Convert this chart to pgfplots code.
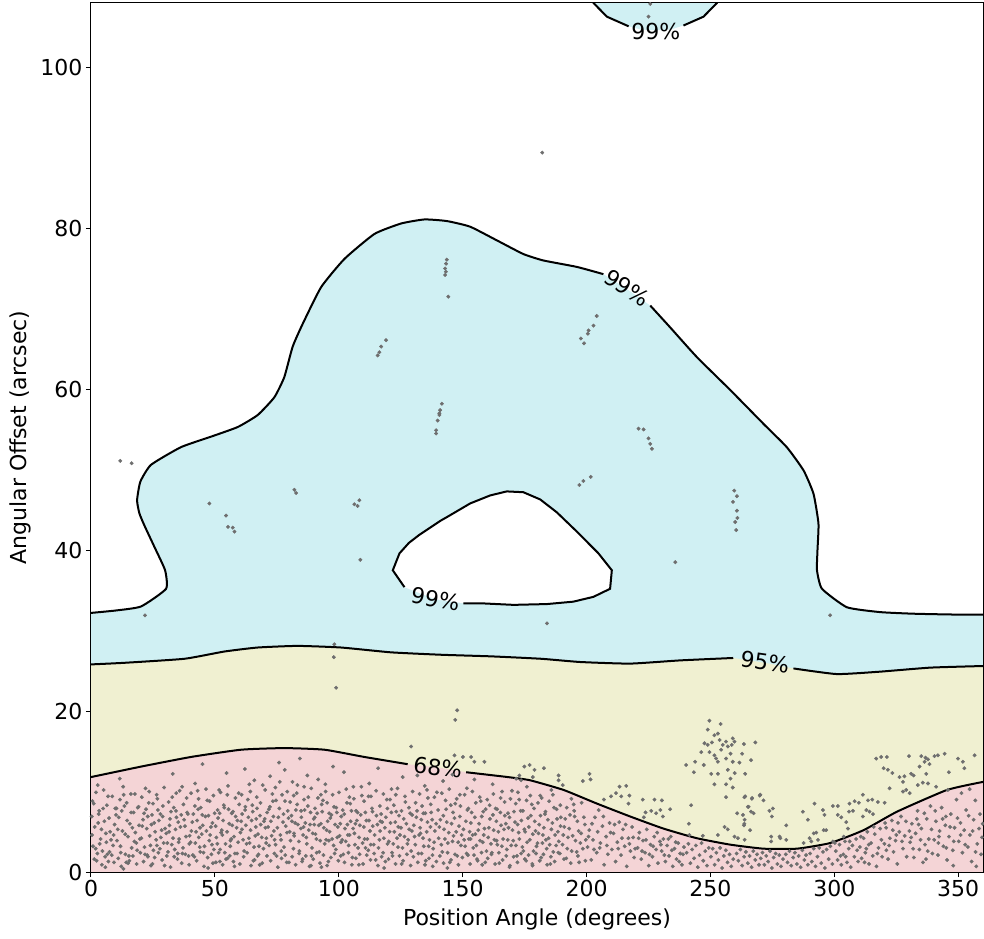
\documentclass[border=0pt]{standalone}
\usepackage{pgfplots}
\pgfplotsset{compat=1.18}
\usepackage{fontspec}
\setmainfont{DejaVu Sans}
\definecolor{tcyan}{RGB}{20,180,195}
\definecolor{tolive}{RGB}{180,180,25}
\definecolor{tred}{RGB}{200,40,50}
\definecolor{dotc}{RGB}{110,110,110}
\newcommand{\bigf}{\fontsize{22}{26}\selectfont}
\begin{document}
\begin{tikzpicture}
\useasboundingbox (-91pt,-66pt) rectangle (893pt,872pt);
\begin{axis}[
  at={(0pt,0pt)}, anchor=south west,
  scale only axis, width=892pt, height=869pt,
  xmin=0, xmax=360, ymin=0, ymax=108,
  xtick={0,50,...,350}, ytick={0,20,...,100},
  xtick pos=lower, ytick pos=left,
  tick align=outside, major tick length=5pt,
  major tick style={line width=1pt, black},
  axis line style={line width=1pt},
  /pgf/number format/assume math mode=true,
  tick label style={font=\bigf},
  label style={font=\bigf},
  xlabel={Position Angle (degrees)},
  ylabel={Angular Offset (arcsec)},
  xlabel style={at={(axis description cs:0.5,-0.0541)}, anchor=center},
  ylabel style={at={(axis description cs:-0.0796,0.5)}, anchor=center},
  axis on top,
  cl/.style={black, line width=2pt, smooth, tension=0.3},
]
% samples (drawn beneath the translucent bands)
\addplot[only marks, mark=*, mark size=1.75pt, color=dotc, mark options={draw=none, fill=dotc}] coordinates {
(0.8,3.2)(1.5,5.6)(2.3,1.4)(3.1,7.2)(3.9,4.1)(4.6,2.6)(5.4,6.3)(6.2,3.7)(6.9,9.4)(7.7,5.0)(8.4,2.1)(9.1,4.6)(9.8,7.9)(2.7,10.8)(5.8,0.6)(8.9,3.3)(1.1,8.5)(4.2,5.3)
(10.5,3.9)(11.2,6.8)(12.0,2.4)(12.7,5.1)(13.5,8.2)(14.2,1.2)(14.9,4.4)(15.7,6.0)(16.4,3.0)(17.2,7.4)(17.9,4.9)(18.6,2.7)(19.4,5.8)(11.6,11.6)(16.1,9.7)(13.1,0.4)(18.3,3.6)(10.1,7.1)
(20.3,4.2)(21.0,6.5)(21.8,2.2)(22.5,5.4)(23.3,8.6)(24.0,3.3)(24.8,1.0)(25.5,6.1)(26.3,4.0)(27.0,7.7)(27.8,2.9)(28.5,5.2)(29.3,3.6)(22.0,10.4)(26.8,9.1)(29.7,0.8)(21.4,7.3)(24.4,5.9)(28.9,6.9)
(30.4,4.8)(31.1,2.5)(31.9,6.6)(32.6,3.4)(33.4,8.0)(34.1,5.3)(34.9,1.6)(35.6,4.1)(36.4,7.1)(37.1,3.0)(37.9,5.7)(38.6,9.2)(39.4,2.0)(33.0,12.2)(36.8,10.6)(39.8,4.5)(31.5,5.0)(35.2,6.2)
(40.2,3.7)(40.9,6.2)(41.7,1.9)(42.4,5.0)(43.2,7.8)(43.9,3.1)(44.7,4.7)(45.4,2.4)(46.2,6.9)(46.9,8.9)(47.7,3.9)(48.4,5.6)(49.2,1.1)(49.9,7.3)(42.0,11.0)(45.0,13.4)(47.3,0.5)(44.0,5.5)(48.8,3.4)
(50.6,4.3)(51.3,6.7)(52.1,2.8)(52.8,5.2)(53.6,8.3)(54.3,3.5)(55.1,1.7)(55.8,6.0)(56.6,4.1)(57.3,7.5)(58.1,2.3)(58.8,5.5)(59.6,9.8)(51.7,10.2)(54.7,12.3)(57.9,0.7)(53.0,4.6)(56.2,3.2)(59.1,6.4)
(60.3,4.9)(61.0,7.2)(61.8,2.6)(62.5,5.8)(63.3,9.0)(64.0,3.6)(64.8,6.4)(65.5,1.4)(66.3,4.5)(67.0,7.9)(67.8,3.2)(68.5,5.9)(69.3,10.8)(62.1,12.8)(65.9,11.4)(68.1,0.9)(60.9,5.3)(63.7,4.2)(66.7,6.6)(69.6,2.9)
(70.4,5.5)(71.1,7.4)(71.9,3.3)(72.6,6.3)(73.4,8.8)(74.1,4.0)(74.9,2.0)(75.6,6.8)(76.4,4.6)(77.1,9.6)(77.9,3.1)(78.6,5.7)(79.4,7.6)(72.3,11.9)(75.9,13.6)(79.0,1.2)(70.8,4.2)(73.8,5.1)(76.8,2.6)(78.2,12.7)
(80.2,5.0)(80.9,7.0)(81.7,2.9)(82.4,6.1)(83.2,8.4)(83.9,3.8)(84.7,5.4)(85.4,1.6)(86.2,7.7)(86.9,4.3)(87.7,9.3)(88.4,5.9)(89.2,3.0)(89.9,6.6)(81.3,11.2)(84.3,14.1)(87.3,12.0)(88.8,0.8)(82.0,4.5)(85.8,5.6)
(90.6,4.7)(91.3,7.3)(92.1,2.5)(92.8,6.0)(93.6,8.9)(94.3,3.5)(95.1,5.2)(95.8,1.3)(96.6,6.7)(97.3,4.1)(98.1,8.1)(98.8,2.8)(99.6,5.6)(91.7,11.5)(94.7,10.0)(97.7,13.1)(93.0,0.6)(90.1,5.9)(96.0,3.9)(99.2,7.4)
(100.3,4.5)(101.0,6.9)(101.8,2.2)(102.5,5.4)(103.3,8.6)(104.0,3.3)(104.8,6.3)(105.5,1.8)(106.3,4.8)(107.0,7.6)(107.8,3.0)(108.5,5.8)(109.3,9.5)(102.1,12.4)(105.9,10.6)(108.1,0.9)(100.9,3.7)(103.7,4.6)(106.7,6.0)
(110.4,4.1)(111.1,6.4)(111.9,2.7)(112.6,5.1)(113.4,7.9)(114.1,3.4)(114.9,1.5)(115.6,5.9)(116.4,4.0)(117.1,7.2)(117.9,2.4)(118.6,5.5)(119.4,9.0)(112.3,11.0)(115.9,12.9)(118.3,0.5)(110.8,3.0)(116.8,6.3)
(120.2,3.8)(120.9,6.1)(121.7,2.0)(122.4,5.0)(123.2,7.5)(123.9,3.1)(124.7,4.6)(125.4,1.0)(126.2,6.6)(126.9,8.7)(127.7,3.5)(128.4,5.3)(129.2,2.6)(121.3,10.3)(125.8,11.8)(129.6,7.1)(124.0,5.6)
(130.6,4.4)(131.3,6.8)(132.1,2.3)(132.8,5.5)(133.6,8.2)(134.3,3.2)(135.1,1.4)(135.8,6.2)(136.6,4.0)(137.3,7.4)(138.1,2.9)(138.8,5.1)(139.6,9.9)(131.7,12.0)(134.7,10.7)(137.9,0.7)(133.0,4.8)
(140.3,4.2)(141.0,6.5)(141.8,2.5)(142.5,5.3)(143.3,7.8)(144.0,3.6)(144.8,1.2)(145.5,6.0)(146.3,4.5)(147.0,8.5)(147.8,2.0)(148.5,5.7)(149.3,3.3)(142.1,11.3)(145.9,12.1)(148.9,9.6)(143.8,0.5)
(146.7,14.5)(150.1,14.3)(153.4,14.3)(154.7,13.7)(158.8,13.7)(129.2,15.6)(174.9,13.1)(177.0,13.3)(179.0,12.7)(172.9,12.0)(171.6,11.6)(173.6,11.4)(178.3,11.8)
(150.6,4.0)(151.3,6.3)(152.1,2.1)(152.8,5.0)(153.6,7.4)(154.3,3.0)(155.1,4.7)(155.8,1.6)(156.6,6.0)(157.3,8.8)(158.1,3.7)(158.8,5.4)(159.6,2.6)(151.7,10.4)(154.7,11.5)(157.9,0.9)(153.2,4.1)
(160.3,4.3)(161.0,6.6)(161.8,2.4)(162.5,5.2)(163.3,7.9)(164.0,3.4)(164.8,1.1)(165.5,5.8)(166.3,4.1)(167.0,7.0)(167.8,2.8)(168.5,5.5)(169.3,9.1)(162.1,10.9)(165.9,10.0)(168.9,0.6)(163.7,3.9)
(170.4,3.9)(171.1,6.2)(171.9,2.0)(172.6,4.9)(173.4,7.6)(174.1,3.1)(174.9,5.3)(175.6,1.4)(176.4,6.7)(177.1,4.0)(177.9,8.4)(178.6,2.6)(179.4,5.1)(172.3,9.9)(175.9,10.6)(178.2,0.8)
(180.2,3.6)(180.9,5.9)(181.7,1.8)(182.4,4.6)(183.2,7.2)(183.9,2.9)(184.7,4.2)(185.4,1.0)(186.2,6.1)(186.9,8.0)(187.7,3.3)(188.4,5.0)(189.2,2.3)(181.3,9.5)(185.8,10.2)(189.6,6.8)
(0.4,4.6)(1.9,2.9)(2.9,6.1)(3.5,3.5)(4.9,7.9)(6.0,4.8)(6.6,2.2)(7.3,6.7)(8.1,4.0)(9.5,5.9)(7.0,1.3)(0.3,6.9)
(10.8,5.3)(11.9,3.2)(12.4,7.6)(13.8,4.7)(14.6,6.4)(15.3,2.0)(16.7,5.5)(17.5,3.8)(18.9,8.0)(19.7,4.1)(13.2,9.6)(15.0,1.1)
(20.7,5.7)(21.6,3.1)(22.9,6.9)(23.7,4.5)(24.6,7.1)(25.2,2.7)(25.9,5.0)(26.6,3.3)(27.4,6.4)(28.2,4.3)(29.0,8.2)(29.9,5.4)(23.0,1.9)
(30.8,3.6)(31.7,5.8)(32.3,7.5)(33.1,4.2)(33.8,2.8)(34.5,6.8)(35.4,3.7)(36.1,5.6)(36.9,2.3)(37.6,6.5)(38.3,4.4)(39.1,7.2)(39.7,3.5)(34.4,9.8)
(40.5,5.1)(41.3,7.2)(42.1,3.6)(42.8,6.4)(43.5,4.3)(44.3,8.0)(45.1,5.8)(45.8,3.2)(46.6,5.1)(47.4,7.0)(48.1,4.6)(49.0,6.1)(49.6,2.8)(43.0,10.1)
(50.3,5.7)(51.0,3.5)(51.9,7.3)(52.5,4.9)(53.3,6.4)(54.0,2.4)(54.9,5.0)(55.5,7.8)(56.3,3.9)(57.0,5.8)(57.7,4.4)(58.4,6.9)(59.4,3.7)(52.0,1.3)(55.0,9.6)
(60.6,6.3)(61.4,4.0)(62.2,7.7)(62.8,3.5)(63.5,6.8)(64.4,5.2)(65.1,8.3)(65.8,3.1)(66.5,5.6)(67.4,4.7)(68.2,7.0)(68.9,4.3)(69.8,6.3)(64.3,10.0)(67.2,2.0)
(70.1,6.6)(70.7,3.6)(71.5,5.6)(72.2,8.1)(72.9,4.5)(73.6,6.9)(74.5,3.4)(75.2,5.5)(76.0,7.9)(76.7,4.0)(77.5,6.2)(78.3,8.8)(79.1,4.9)(79.7,6.7)(74.4,10.5)
(80.5,3.9)(81.1,6.3)(81.9,4.8)(82.7,7.7)(83.5,5.9)(84.1,2.6)(84.9,6.8)(85.6,4.6)(86.5,6.1)(87.1,3.5)(87.9,5.2)(88.6,7.4)(89.5,4.8)(83.0,9.8)(86.0,10.6)(89.0,2.0)
(90.3,6.8)(91.0,4.1)(91.9,5.8)(92.5,3.9)(93.3,7.5)(94.0,5.5)(94.9,4.0)(95.5,6.3)(96.3,5.0)(97.0,7.1)(97.9,3.3)(98.5,5.9)(99.4,4.3)(95.3,8.6)(92.8,9.6)
(100.6,6.0)(101.4,4.0)(102.2,7.2)(102.8,3.8)(103.5,5.9)(104.4,4.6)(105.1,7.6)(105.8,5.4)(106.5,3.4)(107.3,6.4)(108.2,4.3)(108.9,7.1)(109.6,3.6)(104.3,9.3)
(110.1,5.6)(110.7,7.4)(111.5,4.1)(112.2,6.4)(112.9,3.4)(113.7,5.7)(114.5,4.6)(115.2,7.0)(116.0,3.0)(116.7,5.1)(117.5,6.2)(118.2,4.2)(119.0,6.8)(119.7,3.5)(113.0,9.4)
(120.5,5.0)(121.2,7.4)(122.0,3.5)(122.8,6.2)(123.5,4.2)(124.3,7.0)(125.1,5.5)(125.7,3.0)(126.5,4.4)(127.3,6.0)(128.0,4.0)(128.8,7.3)(129.5,5.1)(123.0,9.6)
(130.3,5.8)(130.9,3.4)(131.6,7.6)(132.4,4.6)(133.3,6.5)(134.0,4.2)(134.9,7.3)(135.5,5.0)(136.3,3.2)(137.0,5.6)(137.7,6.5)(138.5,3.7)(139.3,6.0)(136.0,9.2)
(140.6,5.6)(141.4,3.4)(142.2,7.0)(142.8,4.1)(143.6,6.2)(144.4,4.9)(145.2,8.3)(145.9,3.8)(146.7,6.7)(147.4,5.0)(148.2,3.7)(148.9,6.9)(149.6,4.6)
(150.3,5.3)(151.0,3.2)(151.9,7.7)(152.5,4.1)(153.3,6.1)(154.0,4.6)(154.9,6.8)(155.5,3.3)(156.3,5.2)(157.0,3.9)(157.7,6.9)(158.5,4.6)(159.3,7.8)
(160.6,5.5)(161.4,3.5)(162.2,7.1)(162.8,4.0)(163.6,6.3)(164.4,5.0)(165.2,7.4)(165.8,3.2)(166.7,5.3)(167.4,6.0)(168.2,4.0)(168.9,6.8)(169.6,3.3)
(170.1,5.2)(170.7,7.5)(171.5,3.3)(172.2,5.9)(172.9,4.1)(173.7,6.4)(174.5,2.6)(175.2,5.0)(176.0,3.7)(176.7,5.6)(177.5,7.0)(178.3,4.7)(179.1,6.3)(179.8,3.2)
(180.6,4.8)(181.4,7.0)(182.2,3.6)(182.8,5.5)(183.6,4.0)(184.4,6.5)(185.1,3.4)(185.8,5.3)(186.6,2.5)(187.3,4.6)(188.1,6.6)(188.8,3.8)(189.5,5.7)
(0.6,8.8)(1.3,1.6)(2.0,9.9)(2.6,2.3)(3.3,7.6)(4.4,0.9)(5.1,10.2)(5.7,1.9)(6.4,8.3)(7.5,2.5)(8.6,9.4)(9.3,1.2)(10.3,7.9)(11.0,1.7)(11.7,9.0)(12.2,0.7)(13.0,10.6)(13.9,2.2)(14.4,8.6)(15.5,1.4)(16.2,7.4)(16.9,2.0)(17.7,9.7)(18.4,1.0)(19.2,8.1)(19.9,2.4)
(20.5,9.3)(21.2,1.3)(22.2,7.8)(22.7,2.1)(23.5,10.0)(24.2,0.8)(25.0,8.5)(25.7,1.8)(26.5,9.6)(27.2,2.4)(28.0,7.2)(28.7,1.5)(29.5,10.5)(30.6,2.0)(31.3,8.7)(32.1,0.6)(32.8,9.3)(33.6,1.9)(34.3,7.6)(35.0,2.3)(35.8,10.1)(36.6,1.1)(37.3,8.4)(38.1,2.2)(38.8,7.4)(39.6,0.9)
(40.4,9.8)(41.1,2.1)(41.9,8.2)(42.6,1.4)(43.4,9.1)(44.1,2.5)(44.9,7.1)(45.6,0.7)(46.4,10.3)(47.1,1.8)(47.9,8.8)(48.6,2.2)(49.4,9.5)(50.4,1.2)(51.1,7.7)(51.5,2.4)(52.3,9.9)(53.1,0.9)(53.8,8.0)(54.5,1.6)(55.3,10.7)(56.0,2.0)(56.8,7.3)(57.5,1.3)(58.3,9.2)(59.0,2.3)(59.8,8.4)
(60.1,1.0)(60.8,9.6)(61.6,1.9)(62.3,8.1)(63.0,2.4)(63.9,10.9)(64.6,0.8)(65.3,7.5)(66.0,1.5)(66.9,9.3)(67.6,2.2)(68.4,8.6)(69.1,1.1)(70.3,10.2)(71.0,2.0)(71.8,7.8)(72.5,1.4)(73.2,9.7)(74.0,2.3)(74.7,8.9)(75.4,0.6)(76.2,11.2)(76.9,1.7)(77.7,7.2)(78.4,2.1)(79.2,10.0)(79.9,1.2)
(80.4,8.7)(81.2,1.9)(81.8,9.5)(82.6,0.9)(83.3,10.8)(84.0,2.3)(84.8,7.6)(85.2,1.3)(86.0,9.0)(86.7,2.0)(87.5,8.2)(88.2,0.7)(88.9,10.4)(89.7,1.6)(90.4,7.9)(91.1,2.4)(91.6,9.2)(92.4,1.1)(93.1,8.4)(93.8,2.1)(94.6,10.9)(95.3,0.8)(96.1,7.3)(96.8,1.8)(97.5,9.6)(98.3,2.3)(99.0,8.0)(99.8,1.4)
(100.1,9.9)(100.8,2.0)(101.6,7.7)(102.3,1.2)(103.0,10.3)(103.9,2.4)(104.6,8.5)(105.3,0.9)(106.1,9.1)(106.9,1.7)(107.6,7.4)(108.4,2.2)(109.1,10.6)(109.8,1.0)(110.2,8.8)(111.3,2.1)(112.0,9.4)(112.8,1.5)(113.6,7.5)(114.3,2.3)(115.1,10.1)(115.8,0.8)(116.6,8.2)(117.3,1.9)(118.0,9.7)(118.8,1.3)(119.6,7.9)
(120.1,1.6)(120.7,9.0)(121.5,2.4)(122.2,8.3)(122.9,1.0)(123.7,10.4)(124.5,2.0)(125.3,7.6)(126.0,1.4)(126.7,9.4)(127.5,2.2)(128.3,8.0)(129.0,0.8)(129.8,10.0)(130.1,1.9)(131.0,8.6)(131.9,1.2)(132.6,9.7)(133.4,2.3)(134.1,7.3)(134.8,0.9)(135.6,10.2)(136.4,1.7)(137.1,8.4)(137.8,2.1)(138.6,9.3)(139.4,1.3)
(140.1,7.7)(140.8,2.0)(141.6,9.8)(142.3,1.1)(143.1,8.9)(143.9,2.4)(144.6,10.3)(145.3,1.5)(146.1,7.4)(146.9,2.2)(147.6,9.1)(148.3,0.9)(149.1,8.2)(149.9,1.8)(150.8,9.6)(151.6,2.3)(152.3,7.9)(153.0,1.0)(153.9,10.0)(154.6,2.1)(155.3,8.6)(156.0,1.4)(156.9,9.3)(157.6,2.4)(158.3,7.5)(159.1,1.2)(159.9,9.0)
(160.1,1.7)(160.9,8.3)(161.6,2.2)(162.4,9.7)(163.1,1.0)(163.9,7.8)(164.6,2.4)(165.3,9.2)(166.1,1.5)(166.9,8.7)(167.6,2.0)(168.3,7.3)(169.1,0.8)(169.9,10.1)(170.6,1.9)(171.4,8.5)(172.1,1.2)(172.8,9.0)(173.6,2.3)(174.3,7.6)(175.1,1.6)(175.8,8.9)(176.6,2.1)(177.3,9.5)(178.1,1.0)(178.8,7.9)(179.6,2.3)
(180.4,8.6)(181.1,1.4)(181.9,9.2)(182.6,2.2)(183.4,7.5)(184.1,0.9)(184.9,8.8)(185.6,1.9)(186.4,9.6)(187.1,1.3)(187.9,7.8)(188.6,2.4)(189.4,8.3)(190.9,1.6)(192.0,8.0)(193.6,1.1)(195.0,7.6)(196.5,2.0)(198.0,8.6)(199.5,1.4)
(190.6,4.6)(191.4,6.6)(192.2,2.9)(193.0,5.4)(194.4,4.5)(195.2,6.9)(196.0,2.5)(196.8,5.1)(197.5,3.6)(198.9,6.8)(199.7,4.0)
(200.8,4.4)(202.2,6.0)(203.0,2.8)(204.5,5.0)(205.3,3.0)(206.8,6.9)(208.2,3.3)(209.7,4.9)(211.3,5.9)(212.8,2.9)(214.3,4.2)(215.8,5.9)(217.3,3.5)(218.8,4.3)(219.6,2.9)
(221.0,4.2)(222.4,2.6)(224.0,4.0)(225.4,2.2)(226.9,3.2)(228.5,4.9)(230.0,3.4)(231.4,2.1)(233.0,4.1)(234.4,2.7)(236.0,3.7)(237.4,1.3)(238.9,2.2)
(300.2,3.6)(302.5,2.0)(304.6,1.9)(306.2,3.8)(309.2,2.7)(310.7,4.4)(312.2,1.2)(313.9,3.4)(315.9,5.6)(317.4,2.3)(319.0,4.0)(320.5,6.1)(322.1,3.3)(323.6,5.2)(325.7,6.1)(327.3,3.8)(328.9,6.3)(330.3,5.1)(331.8,2.9)(333.3,6.6)(334.8,4.0)(336.3,7.3)(337.7,2.6)(339.2,5.3)(340.7,7.6)(342.2,4.4)(343.7,6.6)(345.2,3.0)(346.7,5.6)(348.2,3.8)(349.7,6.7)(351.0,4.6)(352.8,3.4)(354.2,7.0)(355.8,5.1)(357.0,2.5)(358.8,7.2)(359.9,6.0)
(182.8,12.9)(188.7,12.0)(188.7,11.4)(190.4,10.8)(198.5,11.3)(201.2,12.2)(201.6,11.5)
(209.9,9.4)(211.9,9.8)(213.3,10.6)(216.0,10.7)(214.0,9.4)(217.3,9.5)(216.9,8.5)(207.0,9.0)
(222.7,9.0)(227.4,9.0)(230.4,8.9)(233.7,7.8)(223.8,7.4)(226.1,7.6)(228.1,7.3)(229.8,7.7)(223.1,6.8)(230.8,6.9)
(242.2,8.3)(241.3,6.0)(241.5,4.6)(246.9,4.5)(253.0,4.6)(255.7,5.6)(257.0,5.3)(259.7,4.4)(261.1,4.2)(263.8,4.0)(263.5,5.8)(263.8,6.5)(263.1,7.1)(265.4,8.1)(266.8,9.2)(269.9,9.5)(260.8,7.3)(266.4,7.5)(264.0,9.4)
(267.4,7.3)(271.4,8.9)(274.8,6.9)(266.0,5.2)(270.1,9.6)
(249.6,18.8)(254.1,18.4)(248.9,17.7)(251.6,17.0)(253.0,17.2)(253.7,16.4)(250.6,16.1)(248.9,15.8)(247.6,16.0)(246.3,14.9)(249.6,14.9)(251.6,14.5)(252.3,14.1)(254.3,15.2)(255.0,15.8)(256.3,16.2)(257.0,15.6)(259.0,16.6)(259.7,16.2)(258.6,15.8)(263.5,15.9)(268.1,16.1)(258.1,14.7)(256.3,14.1)(253.0,13.7)(259.0,13.7)(262.8,14.7)(266.4,13.9)(261.7,13.6)(247.3,13.3)(240.2,13.3)(243.8,13.7)(243.3,12.4)(250.3,12.2)(253.0,12.2)(257.0,12.7)(259.8,12.3)(264.0,12.2)(251.6,10.9)(256.3,10.9)(258.1,11.6)(259.0,10.5)(256.3,9.3)(263.7,9.3)(266.7,9.1)(265.1,8.1)(263.7,6.0)
(316.9,14.1)(318.9,14.3)(321.2,14.3)(330.1,14.4)(335.1,14.4)(336.8,14.2)(336.4,13.7)(338.4,13.4)(337.8,14.0)(340.4,14.4)(341.8,14.5)(344.5,14.7)(349.9,14.1)(351.9,13.7)(352.5,12.9)(356.6,14.5)
(346.2,12.4)(321.6,12.7)(323.4,12.3)(326.3,11.8)(328.3,11.9)(331.0,12.2)(334.4,13.1)(337.1,12.2)(335.7,11.1)(333.7,10.8)(337.8,11.0)(327.7,11.2)(327.7,10.0)(329.0,10.2)(330.4,9.8)(322.3,10.4)(311.5,9.6)(341.1,10.6)(345.8,10.2)
(292.0,8.5)(299.4,8.2)(301.4,8.2)(308.2,8.8)(306.1,8.5)(309.9,8.6)(313.6,8.9)(315.3,9.0)(317.6,8.7)(320.3,8.6)(312.9,7.7)(314.2,7.5)(307.5,7.6)(305.9,7.5)(295.4,7.7)(287.3,7.5)(275.2,7.9)(273.8,7.6)(289.3,6.5)(296.0,7.1)(301.4,7.1)(302.8,6.8)(304.8,6.2)(305.5,5.4)(311.5,6.9)(315.6,7.2)(296.7,5.2)(292.7,4.9)(280.6,5.8)(274.5,4.4)(277.9,4.4)(280.6,4.0)(290.0,4.2)(293.4,4.0)(290.7,3.8)(299.4,3.8)(274.5,3.8)
(278.2,4.2)(287.6,3.6)(291.7,4.8)(295.7,5.2)(303.8,4.4)(319.9,12.9)(332.0,12.0)
(190.3,3.4)(191.0,5.6)(191.8,1.7)(192.5,4.3)(193.3,7.1)(194.0,2.6)(194.8,8.4)(195.5,3.9)(196.3,6.3)(197.0,1.2)(197.8,4.8)(198.5,2.9)(199.3,5.9)(193.9,9.1)
(200.4,3.1)(201.1,5.2)(201.9,1.5)(202.6,4.0)(203.4,6.8)(204.1,2.4)(204.9,7.7)(205.6,3.6)(206.4,5.7)(207.1,0.9)(207.9,4.4)(208.6,2.2)(209.3,6.1)
(210.2,2.8)(210.9,4.8)(211.7,1.3)(212.4,3.7)(213.2,6.2)(213.9,2.1)(214.7,5.3)(215.4,3.2)(216.2,0.7)(216.9,4.2)(217.7,2.6)(218.4,5.6)(219.2,1.8)
(220.6,3.0)(221.3,4.9)(222.1,1.6)(222.8,3.9)(223.6,2.4)(224.3,5.3)(225.1,0.8)(225.8,3.4)(226.6,1.9)(227.3,4.4)(228.1,2.8)(228.8,1.1)(229.6,3.8)
(230.3,2.6)(231.0,4.1)(231.8,1.3)(232.5,3.3)(233.3,2.0)(234.0,4.4)(234.8,0.7)(235.5,2.9)(236.3,1.6)(237.0,3.6)(237.8,2.3)(238.5,0.9)(239.3,3.1)
(240.4,2.4)(241.1,3.5)(241.9,1.1)(242.6,2.8)(243.4,1.7)(244.1,3.3)(244.9,0.6)(245.6,2.1)(246.4,3.6)(247.1,1.4)(247.9,2.6)(248.6,0.8)(249.3,3.0)
(250.2,1.9)(250.9,2.9)(251.7,0.9)(252.4,2.4)(253.2,1.5)(253.9,3.0)(254.7,0.5)(255.4,2.0)(256.2,2.7)(256.9,1.2)(257.7,2.2)(258.4,0.7)(259.2,1.6)
(260.6,2.3)(261.3,1.4)(262.1,2.8)(262.8,0.8)(263.6,1.9)(264.3,2.5)(265.1,1.1)(265.8,2.0)(266.6,0.6)(267.3,2.6)(268.1,1.5)(268.8,2.2)(269.6,0.9)
(270.3,1.7)(271.0,2.4)(271.8,0.9)(272.5,2.0)(273.3,1.3)(274.0,2.6)(274.8,0.5)(275.5,1.8)(276.3,2.3)(277.0,1.0)(277.8,2.1)(278.5,0.7)(279.3,1.6)
(280.4,2.2)(281.1,1.2)(281.9,2.6)(282.6,0.8)(283.4,1.8)(284.1,2.4)(284.9,1.0)(285.6,2.0)(286.4,0.6)(287.1,2.7)(287.9,1.5)(288.6,2.1)(289.3,0.9)
(290.2,2.3)(290.9,1.3)(291.7,2.9)(292.4,0.7)(293.2,1.9)(293.9,3.0)(294.7,1.1)(295.4,2.5)(296.2,0.5)(296.9,2.8)(297.7,1.6)(298.4,3.2)(299.2,1.0)
(300.6,2.6)(301.3,1.5)(302.1,3.4)(302.8,0.9)(303.6,2.2)(304.3,3.8)(305.1,1.2)(305.8,2.9)(306.6,0.6)(307.3,3.3)(308.1,1.9)(308.8,4.1)(309.6,1.3)
(310.3,3.1)(311.0,1.7)(311.8,4.2)(312.5,2.4)(313.3,5.0)(314.0,1.0)(314.8,3.6)(315.5,2.0)(316.3,4.7)(317.0,0.7)(317.8,3.0)(318.5,5.4)(319.3,1.9)(312.9,2.9)
(320.2,3.5)(320.9,5.5)(321.7,1.6)(322.4,4.2)(323.2,6.4)(323.9,2.5)(324.7,3.9)(325.4,1.0)(326.2,5.0)(326.9,6.9)(327.7,2.9)(328.4,4.5)(329.2,1.9)(321.0,2.7)(325.0,4.6)
(330.6,3.7)(331.3,6.0)(332.1,1.8)(332.8,4.8)(333.6,7.6)(334.3,2.8)(335.1,5.4)(335.8,1.2)(336.6,3.4)(337.3,6.6)(338.1,4.1)(338.8,8.2)(339.6,2.3)(331.0,4.3)(334.0,5.9)(337.0,1.6)
(340.3,4.0)(341.0,6.3)(341.8,2.1)(342.5,5.1)(343.3,8.0)(344.0,3.2)(344.8,5.8)(345.5,1.5)(346.3,4.4)(347.0,7.2)(347.8,2.7)(348.5,5.5)(349.3,9.0)(342.0,3.6)(345.0,6.9)(348.0,0.8)
(350.2,3.8)(350.9,6.1)(351.7,2.4)(352.4,5.2)(353.2,7.7)(353.9,3.1)(354.7,4.6)(355.4,1.3)(356.2,6.5)(356.9,8.9)(357.7,3.5)(358.4,5.4)(359.2,2.2)(351.3,9.8)(354.6,10.3)(357.3,0.7)(359.6,4.3)
(98.2,28.3)(98.0,26.7)(98.9,22.9)(147.8,20.1)(147.0,18.9)
(11.8,51.1)(16.4,50.8)(21.8,31.9)(47.8,45.8)(54.5,44.3)(55.3,42.9)(57.2,42.8)(57.9,42.3)(82.1,47.5)(82.8,47.1)(106.3,45.7)(108.3,46.2)(107.6,45.5)(108.7,38.8)
(117.1,65.3)(116.4,64.6)(115.7,64.2)(119.1,66.1)(139.9,56.1)(140.6,57.0)(139.3,54.9)(139.3,54.5)(141.6,58.2)(140.9,57.4)(140.6,56.8)
(143.6,76.1)(143.3,75.6)(142.9,75.0)(142.9,74.2)(143.2,74.6)(144.2,71.5)
(204.1,69.1)(202.8,67.9)(200.8,67.3)(200.5,66.9)(197.7,66.3)(199.0,65.7)
(221.0,55.1)(223.0,55.0)(225.0,53.9)(225.7,53.2)(226.4,52.6)
(197.1,48.1)(198.7,48.6)(201.7,49.1)
(259.6,47.4)(260.7,46.7)(259.1,46.0)(260.7,44.9)(260.9,44.0)(260.0,43.5)(260.4,42.5)
(235.8,38.5)(184.0,30.9)(298.3,31.9)(182.1,89.4)(225.7,107.9)(225.0,106.3)
};
% translucent bands (disjoint polygons)
\addplot[fill=tcyan, fill opacity=0.2, draw=none] coordinates {(0,32.2)(10,32.5)(20.2,33.0)(30.3,35.2)(29.9,37.5)(25.6,40.4)(21.5,43.1)(19.5,44.6)(18.6,46.2)(19.9,48.5)(24.2,50.6)(36.3,52.8)(48.4,54.1)(59.2,55.3)(67.3,56.8)(74.0,59.0)(78.0,61.5)(81.4,65.3)(85.4,68.1)(92.9,72.7)(102.3,76.2)(114.4,79.3)(125.2,80.6)(134.6,81.1)(143.6,80.9)(153.0,80.2)(163.8,78.5)(174.5,76.8)(182.6,76.0)(196.1,75.2)(206.8,74.3)(215.6,72.6)(225.7,70.4)(233.7,67.7)(244.5,64.0)(258.0,59.9)(271.4,55.7)(280.8,52.8)(287.6,49.9)(291.6,47.0)(293.6,43.3)(293.2,40.0)(293.0,37.5)(295.0,35.2)(305.1,32.9)(318.5,32.3)(332.0,32.1)(347.9,32.0)(360,32.0)
(360,25.6)(338.7,25.4)(318.5,24.9)(301.0,24.6)(283.5,25.3)(272,26.0)(259.2,26.6)(237.8,26.3)(217.6,25.9)(197.4,26.1)(181.7,26.5)(161.5,26.8)(141.3,27.0)(121.1,27.3)(100.9,27.9)(83.4,28.1)(67.3,27.9)(53.8,27.4)(37.7,26.5)(13.5,26.0)(0,25.8)} -- cycle;
\addplot[fill=tolive, fill opacity=0.2, draw=none] coordinates {(0,25.8)(13.5,26.0)(37.7,26.5)(53.8,27.4)(67.3,27.9)(83.4,28.1)(100.9,27.9)(121.1,27.3)(141.3,27.0)(161.5,26.8)(181.7,26.5)(197.4,26.1)(217.6,25.9)(237.8,26.3)(259.2,26.6)(272,26.0)(283.5,25.3)(301.0,24.6)(318.5,24.9)(338.7,25.4)(360,25.6)
(360,11.2)(345.5,10.2)(325.3,7.5)(311.8,5.2)(298.3,3.6)(284.9,2.9)(271.4,2.9)(258.0,3.4)(244.5,4.2)(231.0,5.4)(217.6,6.9)(204.2,8.5)(190.7,10.2)(177.2,11.4)(168.2,11.8)(151.4,12.4)(140,13.0)(127.8,13.4)(110.3,14.3)(94.2,15.2)(78.0,15.4)(60.6,15.2)(40.4,14.3)(20.2,13.1)(0,11.8)} -- cycle;
\addplot[fill=tred, fill opacity=0.2, draw=none] coordinates {(0,11.8)(20.2,13.1)(40.4,14.3)(60.6,15.2)(78.0,15.4)(94.2,15.2)(110.3,14.3)(127.8,13.4)(140,13.0)(151.4,12.4)(168.2,11.8)(177.2,11.4)(190.7,10.2)(204.2,8.5)(217.6,6.9)(231.0,5.4)(244.5,4.2)(258.0,3.4)(271.4,2.9)(284.9,2.9)(298.3,3.6)(311.8,5.2)(325.3,7.5)(345.5,10.2)(360,11.2)(360,0)(0,0)} -- cycle;
\addplot[fill=tcyan, fill opacity=0.2, draw=none] coordinates {(200.5,110)(202.8,108)(208.2,106.3)(217,105.1)(222,104.7)(228,104.6)(234,104.7)(239.1,105.2)(247.2,106.3)(252.6,108)(254.5,110)} -- cycle;
\addplot[fill=white, draw=none] coordinates {(121.8,37.5)(124.5,39.6)(128.3,40.9)(132.5,41.9)(141.3,43.7)(143.6,44.1)(153.0,45.8)(161.1,46.8)(167.8,47.3)(174.5,47.2)(181.3,46.3)(188.0,44.7)(196.1,42.3)(204.8,39.6)(210.2,37.5)(209.5,35.2)(202.8,34.2)(194.7,33.6)(184.0,33.3)(170.5,33.2)(157.0,33.4)(150.3,33.4)(139.0,33.9)(126.5,35.4)} -- cycle;
% contour lines
\addplot[cl] coordinates {(0,32.2)(10,32.5)(20.2,33.0)(30.3,35.2)(29.9,37.5)(25.6,40.4)(21.5,43.1)(19.5,44.6)(18.6,46.2)(19.9,48.5)(24.2,50.6)(36.3,52.8)(48.4,54.1)(59.2,55.3)(67.3,56.8)(74.0,59.0)(78.0,61.5)(81.4,65.3)(85.4,68.1)(92.9,72.7)(102.3,76.2)(114.4,79.3)(125.2,80.6)(134.6,81.1)(143.6,80.9)(153.0,80.2)(163.8,78.5)(174.5,76.8)(182.6,76.0)(196.1,75.2)(206.8,74.3)};
\addplot[cl] coordinates {(225.7,70.4)(233.7,67.7)(244.5,64.0)(258.0,59.9)(271.4,55.7)(280.8,52.8)(287.6,49.9)(291.6,47.0)(293.6,43.3)(293.2,40.0)(293.0,37.5)(295.0,35.2)(305.1,32.9)(318.5,32.3)(332.0,32.1)(347.9,32.0)(360,32.0)};
\addplot[black, line width=2pt] coordinates {(126.5,35.4)(121.8,37.5)(124.5,39.6)(128.3,40.9)(132.5,41.9)(141.3,43.7)(143.6,44.1)(153.0,45.8)(161.1,46.8)(167.8,47.3)(174.5,47.2)(181.3,46.3)(188.0,44.7)(196.1,42.3)(204.8,39.6)(210.2,37.5)(209.5,35.2)(202.8,34.2)(194.7,33.6)(184.0,33.3)(170.5,33.2)(157.0,33.4)(150.3,33.4)};
\addplot[black, line width=2pt] coordinates {(200.5,110)(202.8,108)(208.2,106.3)(217,105.1)};
\addplot[black, line width=2pt] coordinates {(239.1,105.2)(247.2,106.3)(252.6,108)(254.5,110)};
\addplot[cl] coordinates {(0,25.8)(13.5,26.0)(37.7,26.5)(53.8,27.4)(67.3,27.9)(83.4,28.1)(100.9,27.9)(121.1,27.3)(141.3,27.0)(161.5,26.8)(181.7,26.5)(197.4,26.1)(217.6,25.9)(237.8,26.3)(259.2,26.6)};
\addplot[cl] coordinates {(283.5,25.3)(301.0,24.6)(318.5,24.9)(338.7,25.4)(360,25.6)};
\addplot[cl] coordinates {(0,11.8)(20.2,13.1)(40.4,14.3)(60.6,15.2)(78.0,15.4)(94.2,15.2)(110.3,14.3)(127.8,13.4)};
\addplot[cl] coordinates {(151.4,12.4)(168.2,11.8)(177.2,11.4)(190.7,10.2)(204.2,8.5)(217.6,6.9)(231.0,5.4)(244.5,4.2)(258.0,3.4)(271.4,2.9)(284.9,2.9)(298.3,3.6)(311.8,5.2)(325.3,7.5)(345.5,10.2)(360,11.2)};
% contour labels
\node[font=\bigf, rotate=-33] at (axis cs:216.3,72.6) {99\%};
\node[font=\bigf, rotate=-10] at (axis cs:139.0,33.9) {99\%};
\node[font=\bigf] at (axis cs:228.0,104.5) {99\%};
\node[font=\bigf, rotate=-8] at (axis cs:272.0,26.1) {95\%};
\node[font=\bigf, rotate=-7] at (axis cs:140.0,13.0) {68\%};
\end{axis}
\end{tikzpicture}
\end{document}
